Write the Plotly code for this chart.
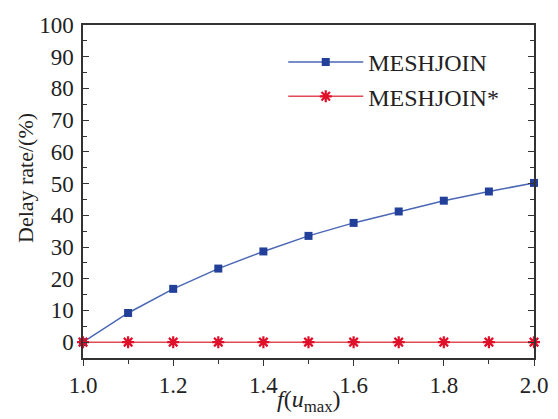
import plotly.graph_objects as go

x_vals = [1.0, 1.1, 1.2, 1.3, 1.4, 1.5, 1.6, 1.7, 1.8, 1.9, 2.0]
meshjoin = [0, 9.2, 16.8, 23.2, 28.6, 33.5, 37.6, 41.2, 44.6, 47.5, 50.2]
meshjoin_star = [0, 0, 0, 0, 0, 0, 0, 0, 0, 0, 0]
x_ticks = [1.0, 1.2, 1.4, 1.6, 1.8, 2.0]
y_ticks = [0, 10, 20, 30, 40, 50, 60, 70, 80, 90, 100]

FONT = "Liberation Serif, Times New Roman, serif"

fig = go.Figure()
fig.add_trace(go.Scatter(
    x=x_vals, y=meshjoin, name="MESHJOIN", mode="lines+markers",
    line=dict(color="#4a67b5", width=1.5),
    marker=dict(symbol="square", size=8, color="#22409a"),
    cliponaxis=False,
))
fig.add_trace(go.Scatter(
    x=x_vals, y=meshjoin_star, name="MESHJOIN*", mode="lines+markers",
    line=dict(color="#e04a55", width=1.5),
    marker=dict(symbol="asterisk-open", size=10, color="#e0102a",
                line=dict(color="#e0102a", width=2.2)),
    cliponaxis=False,
))

fig.update_layout(
    width=550, height=411,
    margin=dict(l=75, r=24, t=17, b=61, autoexpand=False),
    plot_bgcolor="white", paper_bgcolor="white",
    font=dict(family=FONT, size=23, color="#222"),
    showlegend=True,
    legend=dict(x=0.444, y=0.955, xanchor="left", yanchor="top",
                bgcolor="rgba(0,0,0,0)", font=dict(size=24, family=FONT),
                itemwidth=75),
    xaxis=dict(
        range=[1.0, 2.0], tickvals=x_ticks, ticktext=[f"{v:.1f}" for v in x_ticks],
        showgrid=False, zeroline=False, showline=True, linecolor="#333", linewidth=1.5,
        mirror=True, ticks="outside", ticklen=6, tickcolor="#333", automargin=False,
        minor=dict(dtick=0.1, ticks="outside", ticklen=4, tickcolor="#333", showgrid=False),
    ),
    yaxis=dict(
        range=[-5, 100], tickvals=y_ticks,
        showgrid=False, zeroline=False, showline=True, linecolor="#333", linewidth=1.5,
        mirror="ticks", ticks="inside", ticklen=6, tickcolor="#333", automargin=False,
        ticklabelstandoff=3,
        minor=dict(dtick=5, tick0=0, ticks="inside", ticklen=4, tickcolor="#333", showgrid=False),
    ),
    annotations=[
        dict(text="<i>f</i>(<i>u</i><sub>max</sub>)", xref="paper", yref="paper",
             x=0.5, y=-0.128, xanchor="center", yanchor="middle", showarrow=False,
             font=dict(size=24, family=FONT)),
        dict(text="Delay rate/(%)", xref="paper", yref="paper", textangle=-90,
             x=-0.129, y=0.54, xanchor="center", yanchor="middle", showarrow=False,
             font=dict(size=22, family=FONT)),
    ],
)

fig.write_html("out.html")
